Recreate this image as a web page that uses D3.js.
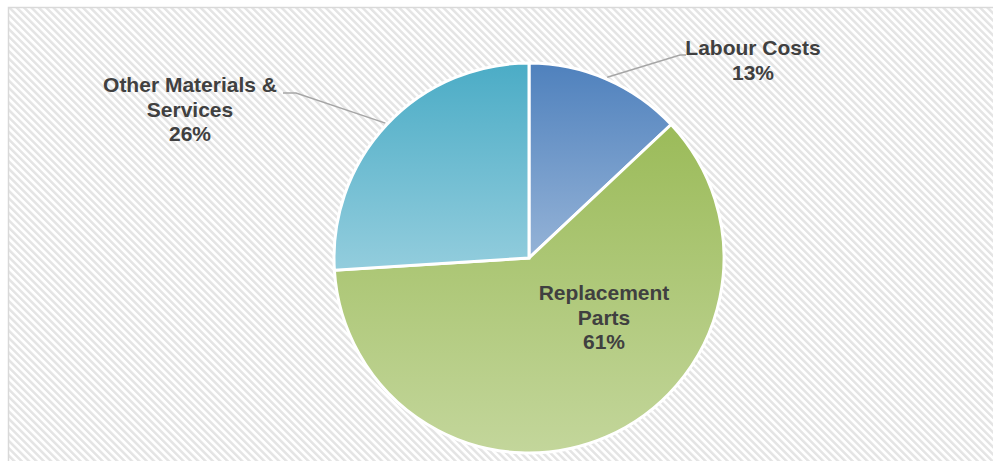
<!DOCTYPE html>
<html>
<head>
<meta charset="utf-8">
<script src="https://cdn.jsdelivr.net/npm/d3@7"></script>
<style>
  html, body { margin: 0; padding: 0; background: #ffffff; }
  svg { display: block; }
</style>
</head>
<body>
<svg id="chart" width="993" height="461"></svg>
<script>
// Cost breakdown by category (share of total, %)
const categories = ["Labour Costs", "Replacement Parts", "Other Materials & Services"];
const shares = [13, 61, 26];
const labelLines = [["Labour Costs"], ["Replacement", "Parts"], ["Other Materials &", "Services"]];
const topColors = ["#4f81bd", "#9bbb59", "#4bacc6"];
const bottomColors = ["#95b3d7", "#c3d69b", "#93cddd"];

const W = 993, H = 461;
const cx = 529, cy = 258, R = 195;

const svg = d3.select("#chart");
const defs = svg.append("defs");

// Diagonal hatch for the chart area
const pat = defs.append("pattern")
  .attr("id", "hatch")
  .attr("patternUnits", "userSpaceOnUse")
  .attr("width", 5.2).attr("height", 5.2)
  .attr("patternTransform", "rotate(-45)");
pat.append("rect").attr("width", 5.2).attr("height", 5.2).attr("fill", "#ffffff");
pat.append("rect").attr("width", 2.5).attr("height", 5.2).attr("fill", "#e4e4e4");

svg.append("rect")
  .attr("x", 8.5).attr("y", 7.5)
  .attr("width", W + 20).attr("height", H + 20)
  .attr("fill", "url(#hatch)")
  .attr("stroke", "#d9d9d9")
  .attr("stroke-width", 1.5);

// Vertical gradient per slice
categories.forEach((c, i) => {
  const g = defs.append("linearGradient")
    .attr("id", "grad" + i)
    .attr("x1", 0).attr("y1", 0).attr("x2", 0).attr("y2", 1);
  g.append("stop").attr("offset", "0%").attr("stop-color", topColors[i]);
  g.append("stop").attr("offset", "100%").attr("stop-color", bottomColors[i]);
});

const pie = d3.pie().sort(null).value(d => d)(shares);
const arc = d3.arc().innerRadius(0).outerRadius(R);

const gPie = svg.append("g").attr("transform", `translate(${cx},${cy})`);
gPie.selectAll("path")
  .data(pie)
  .join("path")
  .attr("d", arc)
  .attr("fill", (d, i) => `url(#grad${i})`)
  .attr("stroke", "#ffffff")
  .attr("stroke-width", 3)
  .attr("stroke-linejoin", "miter");

// Label placement (centre x, first baseline y) and leader-line elbows
const labelPos = [
  { x: 753, y: 55, elbow: [680, 55], end: [686, 55] },
  { x: 604, y: 300, elbow: null },
  { x: 190, y: 92, elbow: [296, 93], end: [283, 93] }
];

const fontSize = 21, lineH = 24.5;

pie.forEach((d, i) => {
  const p = labelPos[i];
  const mid = (d.startAngle + d.endAngle) / 2;
  if (p.elbow) {
    const sx = cx + Math.sin(mid) * (R + 2);
    const sy = cy - Math.cos(mid) * (R + 2);
    svg.append("polyline")
      .attr("points", [[sx, sy], p.elbow, p.end].map(q => q.join(",")).join(" "))
      .attr("fill", "none")
      .attr("stroke", "#a6a6a6")
      .attr("stroke-width", 1.5);
  }
  const lines = labelLines[i].concat([d3.format(".0f")(d.value) + "%"]);
  const t = svg.append("text")
    .attr("text-anchor", "middle")
    .attr("font-family", "'Liberation Sans', Arial, sans-serif")
    .attr("font-weight", "bold")
    .attr("font-size", fontSize)
    .attr("fill", "#404040");
  lines.forEach((ln, k) => {
    t.append("tspan").attr("x", p.x).attr("y", p.y + k * lineH).text(ln);
  });
});
</script>
</body>
</html>
